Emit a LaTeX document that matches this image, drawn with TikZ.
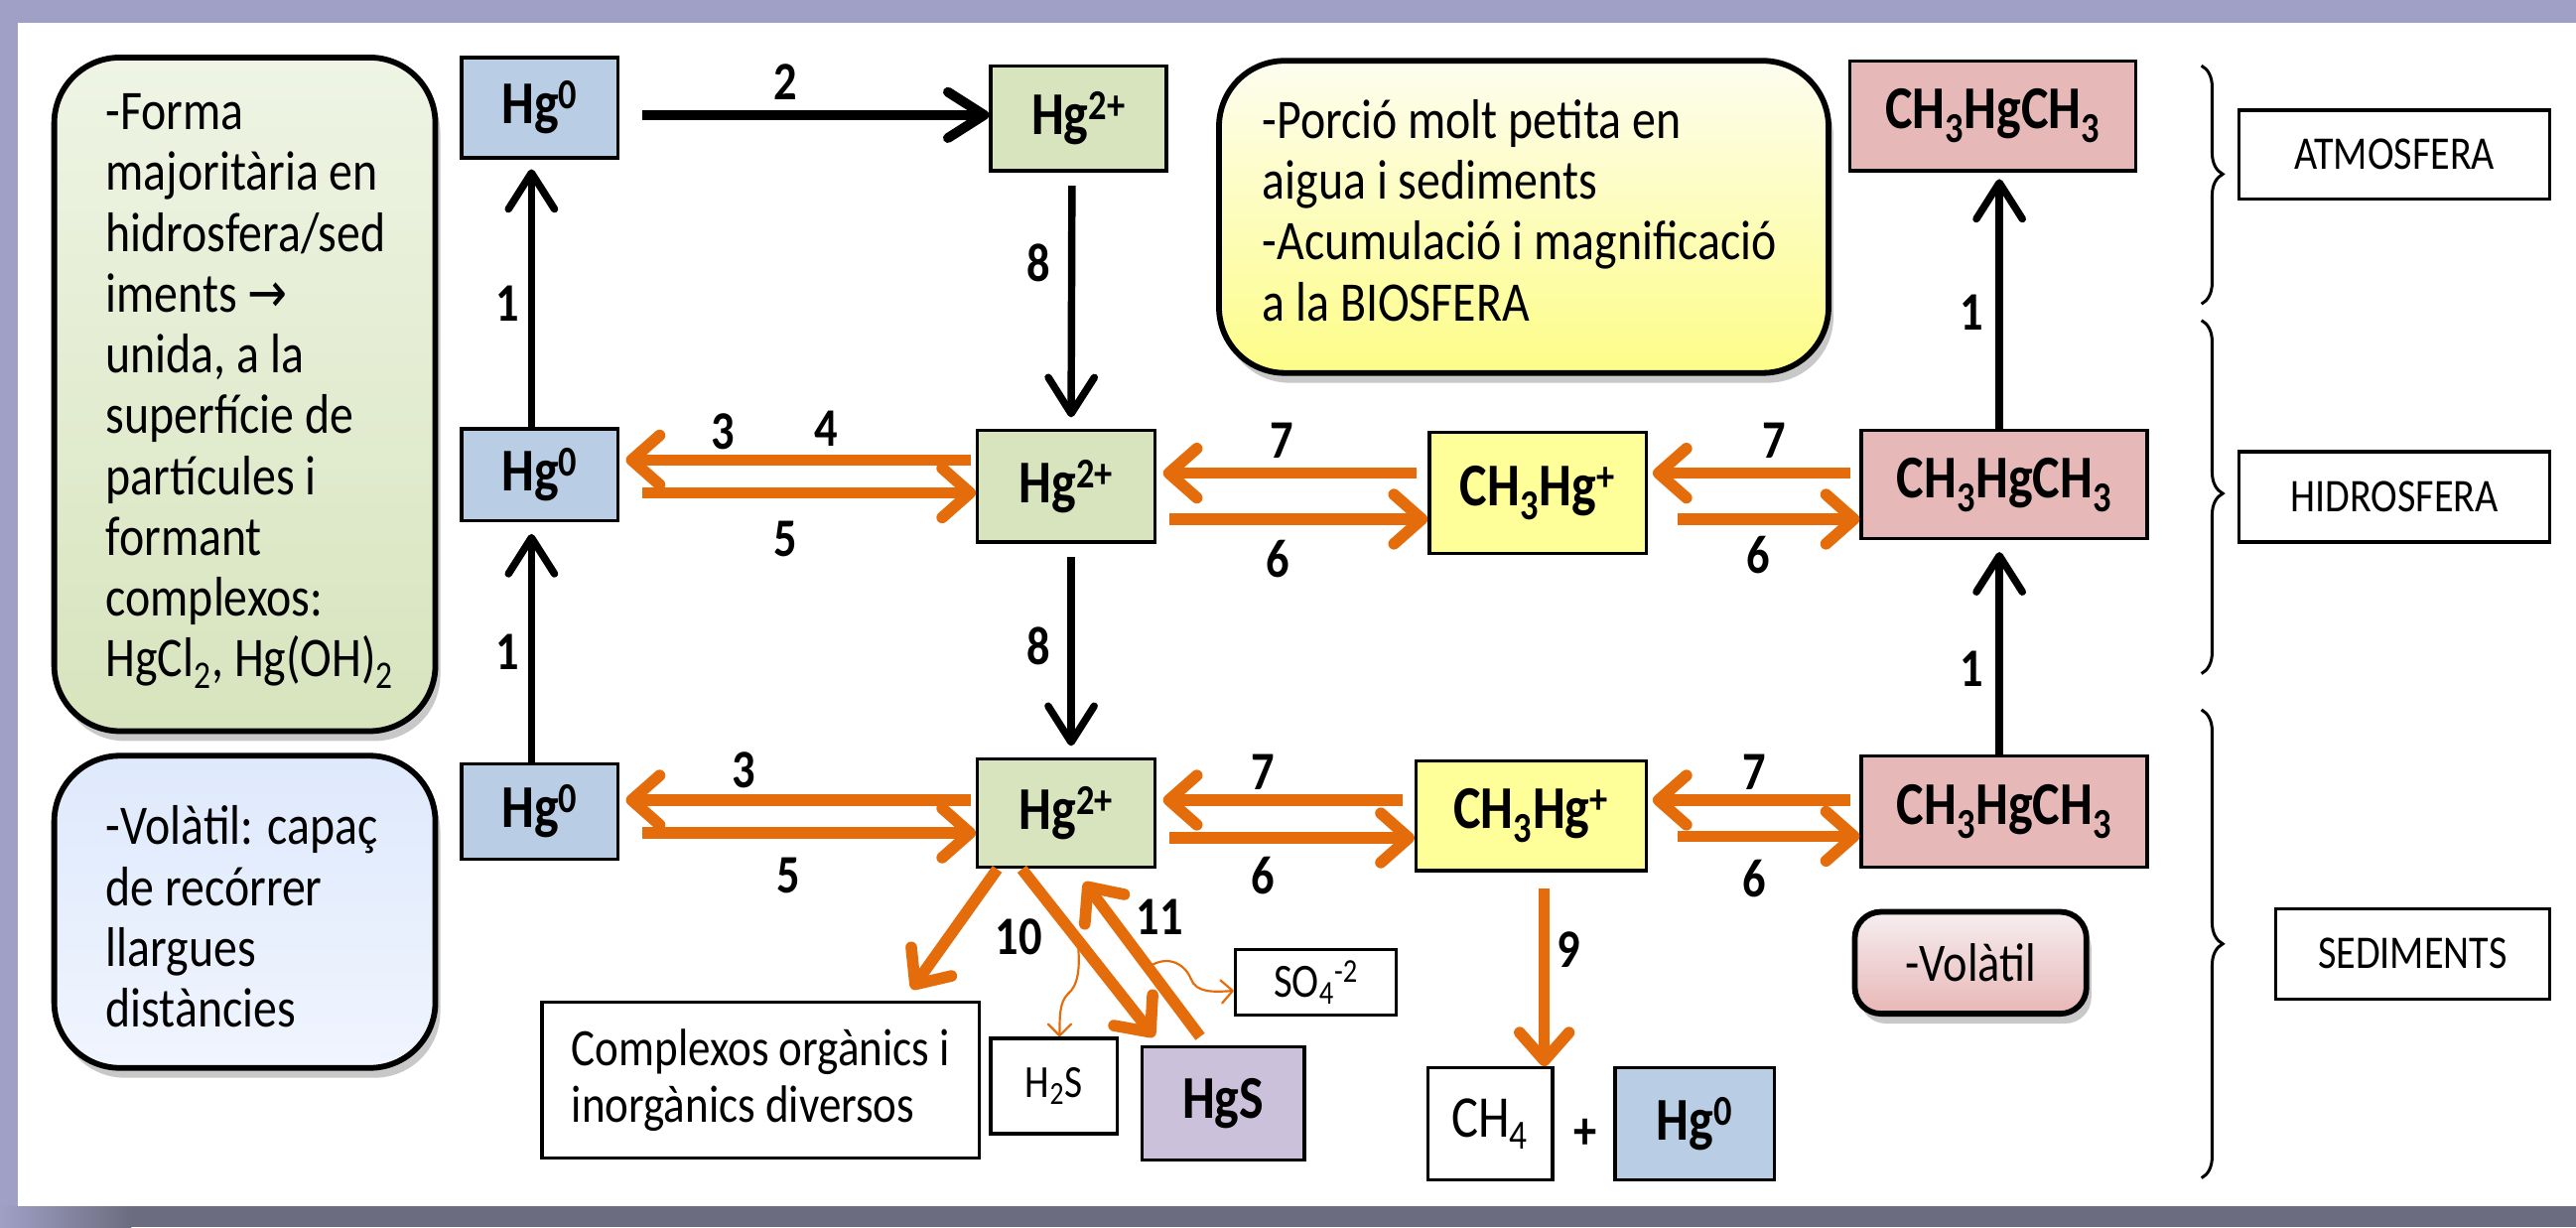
\documentclass[tikz,border=0pt]{standalone}
\usepackage{fontspec}
\setmainfont{Carlito}[FakeStretch=0.85]
\newfontfamily\djv{DejaVu Sans}[FakeStretch=0.85]
\usetikzlibrary{arrows.meta,shadows,decorations.pathreplacing,calc}
\definecolor{hgblue}{HTML}{B9CDE5}
\definecolor{hggreen}{HTML}{D7E4BD}
\definecolor{myyel}{HTML}{FFFF99}
\definecolor{mypink}{HTML}{E6B9B8}
\definecolor{mylav}{HTML}{CCC1DA}
\definecolor{myor}{HTML}{E46C0A}
\definecolor{framec}{HTML}{A0A0C6}
\definecolor{framed}{HTML}{6C6C80}
\begin{document}
\begin{tikzpicture}[x=1pt,y=-1pt,
  box/.style={draw=black,line width=2pt,inner sep=0pt,font=\fontsize{37}{38}\selectfont\bfseries},
  num/.style={inner sep=0pt,font=\fontsize{33}{34}\selectfont\bfseries},
  side/.style={draw=black,line width=2pt,inner sep=0pt,font=\fontsize{28.5}{30}\selectfont},
  smallbox/.style={draw=black,line width=2pt,inner sep=0pt,font=\fontsize{28}{30}\selectfont},
  rbox/.style={draw=black,line width=3.5pt,rounded corners=40pt,drop shadow={shadow xshift=3pt,shadow yshift=-6pt,opacity=0.3,fill=black!70}},
  rtext/.style={inner sep=0pt,anchor=west,align=left,font=\fontsize{34}{37}\selectfont},
  oarr/.style={draw=myor,line width=7pt,-{Straight Barb[length=17pt,width=30pt,round]}},
  barr/.style={draw=black,line width=4.5pt,-{Straight Barb[length=22pt,width=28pt,round]}},
  tarr/.style={draw=myor,line width=1.3pt,-{Straight Barb[length=7pt,width=14pt,round]}},
  brc/.style={draw=black,line width=1.8pt,decorate,decoration={brace,amplitude=13pt,aspect=#1}},
]
\useasboundingbox (0,0) rectangle (1568,747);
% frame
\fill[framec] (0,0) rectangle (1568,747);
\shade[left color=framec,right color=framed] (0,734) rectangle (80,747);
\fill[framed] (80,734) rectangle (1568,747);
\fill[white] (11,14) rectangle (1568,734);

% rounded info boxes
\node[rbox,minimum width=232pt,minimum height=410pt,top color=white!60!hggreen,middle color=hggreen!80!black!95,bottom color=hggreen] (gbox) at (149,240) {};
\node[rtext] (gtext) at ([xshift=33pt,yshift=2pt]gbox.west) {-Forma\\majoritària en\\hidrosfera/sed\\iments {\djv →}\\unida, a la\\superfície de\\partícules i\\formant\\complexos:\\HgCl\textsubscript{2}, Hg(OH)\textsubscript{2}};

\node[rbox,minimum width=232pt,minimum height=190pt,top color={rgb,255:red,222;green,233;blue,252},middle color={rgb,255:red,176;green,202;blue,247},bottom color={rgb,255:red,240;green,245;blue,254}] (bbox) at (149,555) {};
\node[rtext] (btext) at ([xshift=33pt,yshift=-3pt]bbox.west) {-Volàtil: capaç\\de recórrer\\llargues\\distàncies};

\node[rbox,minimum width=371pt,minimum height=190pt,top color={rgb,255:red,253;green,253;blue,240},middle color={rgb,255:red,223;green,223;blue,122},bottom color={rgb,255:red,253;green,253;blue,136}] (ybox) at (927.5,132) {};
\node[rtext] (ytext) at ([xshift=28pt,yshift=4pt]ybox.west) {-Porció molt petita en\\aigua i sediments\\-Acumulació i magnificació\\a la BIOSFERA};

\node[rbox,rounded corners=16pt,minimum width=141pt,minimum height=62pt,top color={rgb,255:red,246;green,238;blue,240},middle color={rgb,255:red,201;green,153;blue,153},bottom color={rgb,255:red,232;green,183;blue,182},font=\fontsize{33}{34}\selectfont] (vbox) at (1199.5,586) {-Volàtil};

% species boxes
\node[box,fill=hgblue,minimum width=95pt,minimum height=61pt] (hg0a) at (328.5,65.5) {Hg\textsuperscript{0}};
\node[box,fill=hgblue,minimum width=95pt,minimum height=56pt] (hg0b) at (328.5,289) {Hg\textsuperscript{0}};
\node[box,fill=hgblue,minimum width=95pt,minimum height=58pt] (hg0c) at (328.5,494) {Hg\textsuperscript{0}};
\node[box,fill=hggreen,minimum width=107pt,minimum height=64pt] (hg2a) at (656.5,72) {Hg\textsuperscript{2+}};
\node[box,fill=hggreen,minimum width=108pt,minimum height=68pt] (hg2b) at (649,296) {Hg\textsuperscript{2+}};
\node[box,fill=hggreen,minimum width=108pt,minimum height=66pt] (hg2c) at (649,495) {Hg\textsuperscript{2+}};
\node[box,fill=myyel,minimum width=132pt,minimum height=74pt] (mma) at (936,300) {CH\textsubscript{3}Hg\textsuperscript{+}};
\node[box,fill=myyel,minimum width=140pt,minimum height=67pt] (mmb) at (932,496.5) {CH\textsubscript{3}Hg\textsuperscript{+}};
\node[box,fill=mypink,minimum width=174pt,minimum height=67pt] (dma) at (1213,70.5) {CH\textsubscript{3}HgCH\textsubscript{3}};
\node[box,fill=mypink,minimum width=174pt,minimum height=66pt] (dmb) at (1220,295) {CH\textsubscript{3}HgCH\textsubscript{3}};
\node[box,fill=mypink,minimum width=174pt,minimum height=68pt] (dmc) at (1220,494) {CH\textsubscript{3}HgCH\textsubscript{3}};

% bottom boxes
\node[smallbox,minimum width=266pt,minimum height=95pt,align=left,font=\fontsize{32}{35}\selectfont] (cplx) at (463,657.5) {Complexos orgànics i\\inorgànics diversos};
\node[smallbox,minimum width=77pt,minimum height=58pt] (h2s) at (641.5,661) {H\textsubscript{2}S};
\node[box,fill=mylav,minimum width=99pt,minimum height=69pt] (hgs) at (744.5,671.5) {HgS};
\node[smallbox,minimum width=98pt,minimum height=40pt,font=\fontsize{29}{30}\selectfont] (so4) at (801,598) {SO\textsubscript{4}\textsuperscript{-2}};
\node[smallbox,minimum width=76pt,minimum height=68pt,font=\fontsize{36}{38}\selectfont] (ch4) at (907,684) {CH\textsubscript{4}};
\node[num] (plus) at (965,690) {+};
\node[box,fill=hgblue,minimum width=97pt,minimum height=68pt] (hg0d) at (1031.5,684) {Hg\textsuperscript{0}};

% side labels
\node[side,minimum width=189pt,minimum height=54pt] (atm) at (1457.5,94) {ATMOSFERA};
\node[side,minimum width=189pt,minimum height=55pt] (hid) at (1457.5,302.5) {HIDROSFERA};
\node[side,minimum width=167pt,minimum height=55pt] (sed) at (1468.5,580.5) {SEDIMENTS};
\coordinate (b1t) at (1340,40); \coordinate (b1b) at (1340,185);
\coordinate (b2t) at (1340,195); \coordinate (b2b) at (1340,410);
\coordinate (b3t) at (1340,432); \coordinate (b3b) at (1340,717);
\draw[brc=0.455] (b1t) -- (b1b);
\draw[brc=0.49] (b2t) -- (b2b);
\draw[brc=0.5] (b3t) -- (b3b);

% black arrows
\draw[barr,line width=6pt] ([xshift=14pt,yshift=-4.5pt]hg0a.east) -- ([yshift=2pt]hg2a.west);
\draw[barr] ([xshift=-5pt]hg0b.north) -- ([xshift=-5pt,yshift=-6pt]hg0a.south);
\draw[barr] ([xshift=-5pt]hg0c.north) -- ([xshift=-5pt,yshift=-7pt]hg0b.south);
\draw[barr] ([xshift=-4pt,yshift=-8pt]hg2a.south) -- ([xshift=3pt,yshift=7pt]hg2b.north);
\draw[barr] ([xshift=3pt,yshift=-8pt]hg2b.south) -- ([xshift=3pt,yshift=7pt]hg2c.north);
\draw[barr] ([xshift=-3pt]dmb.north) -- ([xshift=4pt,yshift=-4pt]dma.south);
\draw[barr] ([xshift=-3pt]dmc.north) -- ([xshift=-3pt,yshift=-7pt]dmb.south);

% orange arrows, middle row
\draw[oarr] ([xshift=-3pt,yshift=16pt]hg2b.west) -- ([xshift=4pt,yshift=9pt]hg0b.east);
\draw[oarr] ([xshift=14pt,yshift=-11pt]hg0b.east) -- ([yshift=-4pt]hg2b.west);
\draw[oarr] ([xshift=-7pt,yshift=12pt]mma.west) -- ([xshift=4pt,yshift=8pt]hg2b.east);
\draw[oarr] ([xshift=8pt,yshift=-20pt]hg2b.east) -- ([yshift=-16pt]mma.west);
\draw[oarr] ([xshift=-6pt,yshift=7pt]dmb.west) -- ([xshift=3pt,yshift=12pt]mma.east);
\draw[oarr] ([xshift=18pt,yshift=-16pt]mma.east) -- ([yshift=-21pt]dmb.west);
% orange arrows, bottom row
\draw[oarr] ([xshift=-3pt,yshift=8pt]hg2c.west) -- ([xshift=4pt,yshift=7pt]hg0c.east);
\draw[oarr] ([xshift=14pt,yshift=-13pt]hg0c.east) -- ([yshift=-12pt]hg2c.west);
\draw[oarr] ([xshift=-7pt,yshift=9.5pt]mmb.west) -- ([xshift=4pt,yshift=8pt]hg2c.east);
\draw[oarr] ([xshift=8pt,yshift=-15pt]hg2c.east) -- ([yshift=-13.5pt]mmb.west);
\draw[oarr] ([xshift=-6pt,yshift=7pt]dmc.west) -- ([xshift=3pt,yshift=9.5pt]mmb.east);
\draw[oarr] ([xshift=18pt,yshift=-12.5pt]mmb.east) -- ([yshift=-15pt]dmc.west);

% bottom processes
\coordinate (a10s) at ([xshift=-27pt]hg2c.south);
\coordinate (a10e) at ([xshift=-42pt,yshift=5pt]hgs.north);
\coordinate (a11s) at ([xshift=-14pt,yshift=5pt]hgs.north);
\coordinate (a11e) at ([xshift=11pt,yshift=-8pt]hg2c.south);
\draw[oarr] ([xshift=-42pt]hg2c.south) -- ([xshift=92pt,yshift=7pt]cplx.north);
\draw[oarr] (a10s) -- (a10e);
\draw[oarr] (a11s) -- (a11e);
\draw[oarr] ([xshift=8pt,yshift=-10pt]mmb.south) -- ([xshift=33pt]ch4.north);
\draw[tarr] ($(a10s)!0.42!(a10e)$) .. controls (658,590) and (656,600) .. (650,605) .. controls (645,610) and (645,618) .. ([xshift=3.5pt]h2s.north);
\draw[tarr] ($(a11s)!0.45!(a11e)$) .. controls (712,580) and (722,588) .. (725,596) .. controls (728,604) and (738,604) .. ([yshift=-5pt]so4.west);

% labels
\node[num] (l2) at (478,50) {2};
\node[num] (l1a) at (309,185) {1};
\node[num] (l1b) at (309,397) {1};
\node[num] (l8a) at (632,160) {8};
\node[num] (l8b) at (632,393) {8};
\node[num] (l1c) at (1200,190) {1};
\node[num] (l1d) at (1200,407) {1};
\node[num] (l3a) at (440,263) {3};
\node[num] (l4a) at (503,261) {4};
\node[num] (l5a) at (478,328) {5};
\node[num] (l7a) at (780,268) {7};
\node[num] (l6a) at (778,340) {6};
\node[num] (l7b) at (1080,268) {7};
\node[num] (l6b) at (1070,338) {6};
\node[num] (l3b) at (453,469) {3};
\node[num] (l5b) at (480,533) {5};
\node[num] (l7c) at (769,470) {7};
\node[num] (l6c) at (769,533) {6};
\node[num] (l7d) at (1068,470) {7};
\node[num] (l6d) at (1068,535) {6};
\node[num] (l10) at (620,570) {10};
\node[num] (l11) at (706,558) {11};
\node[num] (l9) at (955,578) {9};
\end{tikzpicture}
\end{document}
